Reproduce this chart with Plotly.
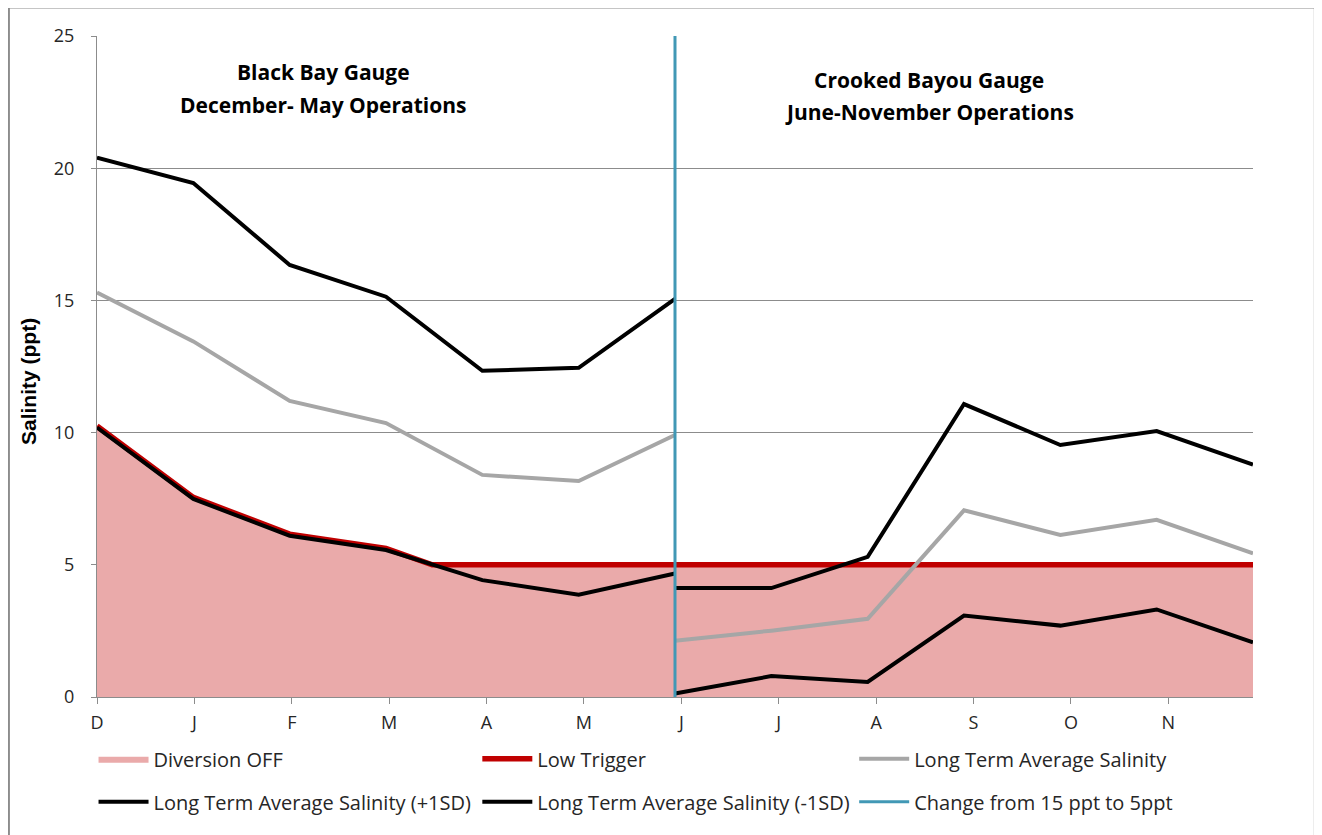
import plotly.graph_objects as go

# ---- data ----
month_labels = ["D", "J", "F", "M", "A", "M", "J", "J", "A", "S", "O", "N"]
tick_pos = list(range(len(month_labels)))

first_x = [0, 1, 2, 3, 4, 5, 6]          # Dec -> Jun (Black Bay)
second_x = [6, 7, 8, 9, 10, 11, 12]      # Jun -> end Nov (Crooked Bayou)

plus1_first = [20.4, 19.44, 16.34, 15.14, 12.34, 12.45, 15.06]
plus1_second = [4.12, 4.12, 5.30, 11.08, 9.53, 10.06, 8.79]

avg_first = [15.3, 13.45, 11.2, 10.36, 8.40, 8.17, 9.91]
avg_second = [2.13, 2.51, 2.96, 7.06, 6.13, 6.70, 5.43]

minus1_first = [10.19, 7.49, 6.10, 5.56, 4.42, 3.87, 4.67]
minus1_second = [0.13, 0.79, 0.57, 3.08, 2.70, 3.31, 2.07]

trigger_x = [0, 1, 2, 3, 3.48, 12]
trigger_y = [10.25, 7.55, 6.16, 5.62, 5.0, 5.0]

change_x = [6, 6]
change_y = [0, 25]

FONT = "'Open Sans', Lato, sans-serif"
TXT = "#262626"
GRID = "#8c8c8c"

fig = go.Figure()

fig.add_trace(go.Scatter(x=trigger_x, y=trigger_y, mode="lines", fill="tozeroy",
                         fillcolor="#EAAAAA", line=dict(width=0, color="#EAAAAA"),
                         name="Diversion OFF", legend="legend", hoverinfo="skip"))
fig.add_trace(go.Scatter(x=trigger_x, y=trigger_y, mode="lines",
                         line=dict(width=5.5, color="#C00000"),
                         name="Low Trigger", legend="legend2"))
fig.add_trace(go.Scatter(x=first_x, y=avg_first, mode="lines",
                         line=dict(width=4, color="#A6A6A6"),
                         name="Long Term Average Salinity", legend="legend3",
                         legendgroup="avg"))
fig.add_trace(go.Scatter(x=second_x, y=avg_second, mode="lines",
                         line=dict(width=4, color="#A6A6A6"),
                         showlegend=False, legendgroup="avg"))
fig.add_trace(go.Scatter(x=first_x, y=plus1_first, mode="lines",
                         line=dict(width=4, color="#000000"),
                         name="Long Term Average Salinity (+1SD)", legend="legend",
                         legendgroup="p1"))
fig.add_trace(go.Scatter(x=second_x, y=plus1_second, mode="lines",
                         line=dict(width=4, color="#000000"),
                         showlegend=False, legendgroup="p1"))
fig.add_trace(go.Scatter(x=first_x, y=minus1_first, mode="lines",
                         line=dict(width=4, color="#000000"),
                         name="Long Term Average Salinity (-1SD)", legend="legend2",
                         legendgroup="m1"))
fig.add_trace(go.Scatter(x=second_x, y=minus1_second, mode="lines",
                         line=dict(width=4, color="#000000"),
                         showlegend=False, legendgroup="m1"))
fig.add_trace(go.Scatter(x=change_x, y=change_y, mode="lines",
                         line=dict(width=3, color="#4198B5"),
                         name="Change from 15 ppt to 5ppt", legend="legend3"))
# month tick axis carrier
fig.add_trace(go.Scatter(x=tick_pos, y=[None] * len(tick_pos), xaxis="x2",
                         showlegend=False, hoverinfo="skip", mode="lines"))

legend_common = dict(orientation="v", font=dict(family=FONT, size=20, color=TXT),
                     bgcolor="rgba(0,0,0,0)", tracegroupgap=14, itemwidth=50,
                     yanchor="top", y=-0.064, xanchor="left")

title_font = dict(family=FONT, size=21, color="#000000")

fig.update_layout(
    width=1314, height=827,
    margin=dict(l=89, r=69, t=28, b=138),
    paper_bgcolor="white", plot_bgcolor="white",
    font=dict(family=FONT, color=TXT),
    showlegend=True,
    legend=dict(**legend_common, x=-0.003),
    legend2=dict(**legend_common, x=0.329),
    legend3=dict(**legend_common, x=0.655),
    xaxis=dict(range=[0, 12], showticklabels=False, ticks="", showgrid=False,
               zeroline=False, showline=False),
    xaxis2=dict(range=[0, 11.87], overlaying="x", side="bottom",
                tickvals=tick_pos, ticktext=month_labels,
                ticks="outside", ticklen=6, tickcolor=GRID,
                showline=True, linecolor=GRID, linewidth=1,
                showgrid=False, zeroline=False, ticklabelstandoff=3,
                tickfont=dict(family=FONT, size=18, color=TXT)),
    yaxis=dict(range=[0, 25], tickvals=[0, 5, 10, 15, 20, 25],
               showgrid=True, gridcolor=GRID, gridwidth=1,
               zeroline=False, showline=True, linecolor=GRID, linewidth=1,
               ticks="outside", ticklen=5, tickcolor=GRID,
               tickfont=dict(family=FONT, size=18, color=TXT),
               ticklabelstandoff=13),
    annotations=[
        dict(text="<b>Salinity (ppt)</b>", x=-0.0597, y=0.478, xref="paper", yref="paper",
             textangle=-90, showarrow=False, xanchor="center", yanchor="middle",
             font=dict(family="'Liberation Sans', Arial, sans-serif", size=21,
                       color="#000000")),
        dict(text="<b>Black Bay Gauge</b>", x=2.35, y=23.64, xref="x", yref="y",
             showarrow=False, font=title_font),
        dict(text="<b>December- May Operations</b>", x=2.35, y=22.39, xref="x", yref="y",
             showarrow=False, font=title_font),
        dict(text="<b>Crooked Bayou Gauge</b>", x=8.64, y=23.34, xref="x", yref="y",
             showarrow=False, font=title_font),
        dict(text="<b>June-November Operations</b>", x=8.64, y=22.13, xref="x", yref="y",
             showarrow=False, font=title_font),
    ],
    shapes=[
        dict(type="rect", xref="paper", yref="paper",
             x0=-0.0762, x1=1.0535, y0=-0.25, y1=1.043,
             line=dict(color="#8c8c8c", width=2), fillcolor="rgba(0,0,0,0)",
             layer="below"),
    ],
)

fig.write_html("out.html")
